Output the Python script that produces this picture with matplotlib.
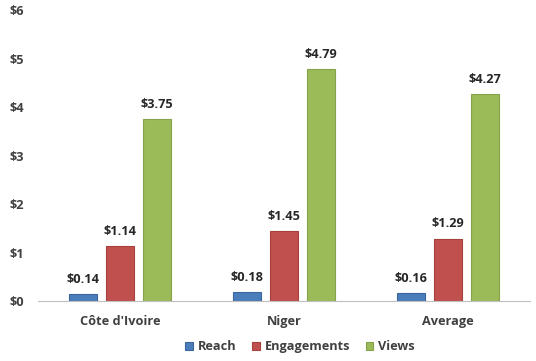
import numpy as np
import matplotlib.pyplot as plt

plt.rcParams['font.family'] = ['Open Sans', 'DejaVu Sans']

categories = ["Côte d'Ivoire", "Niger", "Average"]
series = ["Reach", "Engagements", "Views"]
reach = [0.14, 0.18, 0.16]
engagements = [1.14, 1.45, 1.29]
views = [3.75, 4.79, 4.27]
yticks = [0, 1, 2, 3, 4, 5, 6]

colors = ['#4A7EBB', '#C0504D', '#9BBB59']
edges = ['#3A66A0', '#A8403D', '#85A34A']
text_color = '#404040'
fs = 9.2

fig = plt.figure(figsize=(5.36, 3.61), dpi=100)
ax = fig.add_axes([0.071, 0.166, 0.918, 0.806])

x = np.arange(len(categories))
width = 0.17
offset = 0.225
for i, (name, vals) in enumerate(zip(series, [reach, engagements, views])):
    pos = x + (i - 1) * offset
    bars = ax.bar(pos, vals, width, color=colors[i], edgecolor=edges[i],
                  linewidth=0.8, label=name)
    for b, v in zip(bars, vals):
        ax.text(b.get_x() + b.get_width() / 2, v + 0.17, f'${v:.2f}',
                ha='center', va='bottom', fontsize=fs, fontweight='bold',
                color='#262626')

ax.set_xlim(-0.5, 2.5)
ax.set_ylim(0, 6)
ax.set_yticks(yticks)
ax.set_yticklabels([f'${t}' for t in yticks])
ax.set_xticks(x)
ax.set_xticklabels(categories)
for lbl in ax.get_xticklabels() + ax.get_yticklabels():
    lbl.set_fontweight('bold')
    lbl.set_fontsize(fs)
    lbl.set_color(text_color)

ax.tick_params(axis='both', length=0)
ax.tick_params(axis='x', pad=10)
ax.tick_params(axis='y', pad=10)
for s in ['top', 'right', 'left']:
    ax.spines[s].set_visible(False)
ax.spines['bottom'].set_color('#BFBFBF')

leg = fig.legend(loc='lower center', ncol=3, frameon=False,
                 bbox_to_anchor=(0.56, -0.01), handlelength=0.6,
                 handleheight=0.6, handletextpad=0.4, columnspacing=1.2,
                 prop={'weight': 'bold', 'size': fs})
for t in leg.get_texts():
    t.set_color(text_color)

fig.savefig('out.png', dpi=100)
